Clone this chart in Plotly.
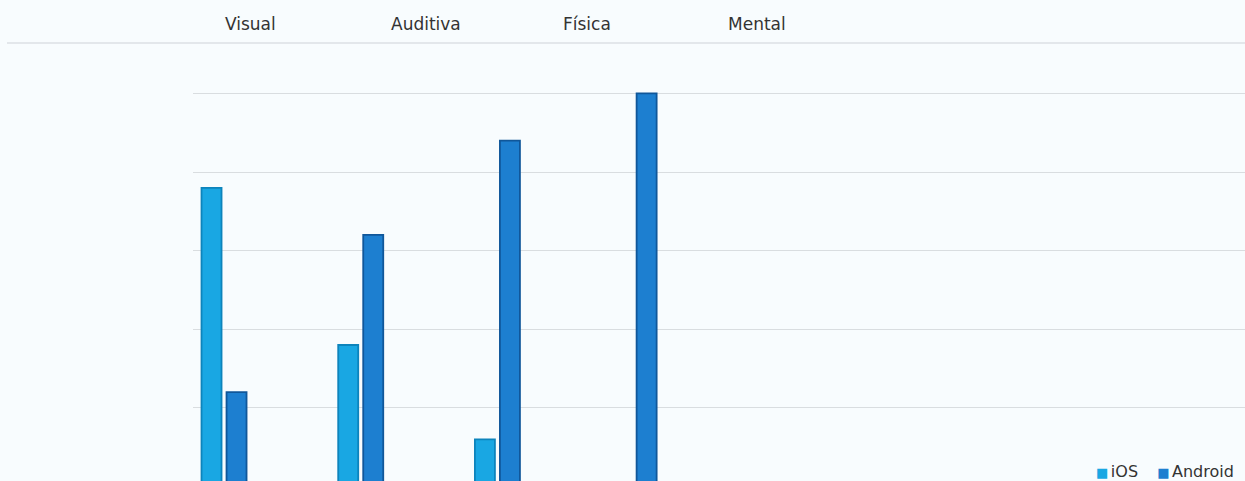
import plotly.graph_objects as go

categories = ["Visual", "Auditiva", "Física", "Mental"]
ios_values = [19, 9, 3, 0]
android_values = [6, 16, 22, 25]
y_ticks = [5, 10, 15, 20, 25]

series = [
    ("iOS", ios_values, "#19a7e3", "#0d84bc"),
    ("Android", android_values, "#1d7fd0", "#10579a"),
]

BG = "#f8fcfe"
FONT = "DejaVu Sans, Liberation Sans, Arial, sans-serif"

fig = go.Figure()
for name, values, fill, edge in series:
    fig.add_trace(go.Bar(
        name=name, x=categories, y=values,
        marker=dict(color=fill, line=dict(color=edge, width=1.8)),
    ))

# Header row with the category names, above a thin separator line
header_x = [250, 426, 587, 757]
plot_left, plot_width = 193, 1245 - 193
plot_top, plot_height = 62, 481 - 62
for name, px in zip(categories, header_x):
    fig.add_annotation(
        text=name, x=(px - plot_left) / plot_width, xref="paper",
        y=(481 - 24) / plot_height, yref="paper", showarrow=False,
        font=dict(family=FONT, size=17, color="#333333"),
        xanchor="center", yanchor="middle",
    )
fig.add_shape(
    type="line", xref="paper", yref="paper",
    x0=(7 - plot_left) / plot_width, x1=1.0,
    y0=(481 - 43) / plot_height, y1=(481 - 43) / plot_height,
    line=dict(color="#dde1e4", width=1.5),
)

# Compact legend: small coloured squares followed by the series names
legend_text = "<span style='font-size:12px'>&nbsp;&nbsp;&nbsp;&nbsp;&nbsp;</span>".join(
    f"<span style='font-size:13px;color:{fill}'>■</span>"
    f"<span style='font-size:8px'>&nbsp;</span>{name}"
    for name, _, fill, _ in series
)
fig.add_annotation(
    text=legend_text, x=(1236 - plot_left) / plot_width, xref="paper",
    y=(481 - 471) / plot_height, yref="paper", showarrow=False,
    font=dict(family=FONT, size=16, color="#333333"),
    xanchor="right", yanchor="middle",
)

fig.update_layout(
    width=1245, height=481,
    margin=dict(l=plot_left, r=0, t=plot_top, b=0),
    paper_bgcolor=BG, plot_bgcolor=BG,
    barmode="group", bargap=0.634, bargroupgap=0.2,
    showlegend=False,
    xaxis=dict(
        range=[-0.227, 7.469], showticklabels=False, showgrid=False,
        zeroline=False, showline=False, ticks="",
    ),
    yaxis=dict(
        range=[0.35, 27], tickvals=y_ticks, showticklabels=False,
        showgrid=True, gridcolor="#d9dde0", gridwidth=1,
        zeroline=False, showline=False, ticks="",
    ),
)

fig.write_html("out.html")
